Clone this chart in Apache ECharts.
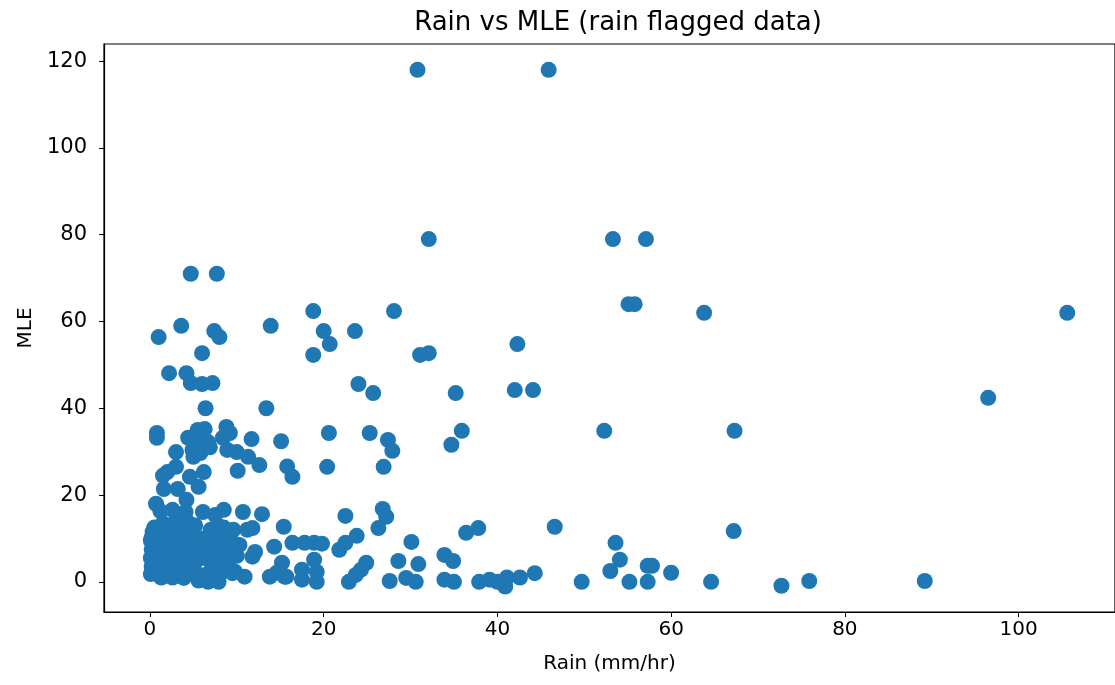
<!DOCTYPE html>
<html>
<head>
<meta charset="utf-8">
<script src="https://cdn.jsdelivr.net/npm/echarts@6/dist/echarts.min.js"></script>
<style>html,body{margin:0;padding:0;background:#fff;}#chart{width:1115px;height:685px;}</style>
</head>
<body>
<div id="chart"></div>
<script>
const titleText = "Rain vs MLE (rain flagged data)";
const xName = "Rain (mm/hr)";
const yName = "MLE";
const xTicks = [0, 20, 40, 60, 80, 100];
const yTicks = [0, 20, 40, 60, 80, 100, 120];

// sparse / upper points [rain, MLE]
const upperPoints = [
  [30.8,118],[45.9,118],
  [32.1,79],[53.3,79],[57.1,79],
  [4.7,71],[7.7,71],
  [1.0,56.4],[3.6,59],[7.4,57.8],[8.0,56.4],[6.0,52.7],[13.9,59],
  [18.8,62.4],[28.1,62.4],[20.0,57.8],[23.6,57.8],[20.7,54.8],[18.8,52.3],[31.1,52.3],[32.1,52.7],[42.3,54.8],
  [55.1,64],[55.8,64],[63.8,62],[105.6,62],
  [2.2,48.1],[4.2,48.1],[4.7,45.8],[6.0,45.6],[7.2,45.8],
  [24.0,45.6],[25.7,43.5],[35.2,43.5],[42.0,44.2],[44.1,44.2],[96.5,42.4],
  [6.4,40],[13.4,40]
];

const midPoints = [
  [0.8,34.3],[0.8,33.2],[5.5,35],[6.3,35.2],[4.4,33.2],[8.8,35.7],[9.2,34.3],[8.4,33.2],[11.7,32.9],[15.1,32.4],
  [5.8,31.8],[6.7,32.2],
  [20.6,34.3],[25.3,34.3],[27.4,32.7],[27.9,30.2],[35.9,34.8],[34.7,31.6],[52.3,34.8],[67.3,34.8],
  [3.0,29.9],[4.9,30.4],[5.0,28.8],[5.8,29.7],[6.9,31.0],
  [8.9,30.4],[10.0,29.9],[11.3,28.8],[12.6,26.9],[10.1,25.6],
  [15.8,26.6],[16.4,24.2],[20.4,26.5],[26.9,26.5],
  [3.0,26.5],[1.5,24.5],[2.0,25.3],[4.6,24.2],[6.2,25.3],[5.6,21.9],[1.6,21.4],[3.2,21.4],
  [0.7,18],[4.2,18.9],[1.2,16.3],[2.6,16.6],[4.1,16.1],[6.1,16.1],[7.5,15.4],[8.5,16.6],[10.7,16.1],[12.9,15.6],
  [22.5,15.2],[26.8,16.8],[27.2,15.0],[26.3,12.4],[15.4,12.7],[36.4,11.3],[37.8,12.4],[46.6,12.7],[67.2,11.7]
];

const lowPoints = [
  [16.4,9.0],[17.8,9.0],[18.9,9.0],[19.8,8.8],[21.8,7.4],[22.5,9.0],[23.8,10.6],[30.1,9.2],[53.6,9.0],
  [14.3,8.1],[12.1,6.9],[11.8,5.8],[11.2,12.0],[11.8,12.4],[9.6,9.0],
  [15.2,4.4],[18.9,5.1],[28.6,4.8],[30.9,4.1],[33.9,6.2],[34.9,4.8],[24.9,4.4],[24.3,2.8],[23.7,1.6],
  [54.1,5.1],[53.0,2.5],[57.3,3.7],[57.8,3.7],[60.0,2.1],
  [17.5,2.8],[17.5,0.5],[19.2,2.3],[19.2,0.0],[15.5,1.2],[22.9,0],[27.6,0.2],[29.5,0.9],[30.6,0],
  [33.9,0.5],[35.0,0],[37.9,0],[39.1,0.5],[40.0,0],[41.1,1.0],[40.9,-1.1],[42.6,1.0],[44.3,2.0],
  [49.7,0],[55.2,0],[57.3,0],[64.6,0],[72.7,-0.9],[75.9,0.2],[89.2,0.2],
  [14.6,2.1],[15.7,1.2],[13.8,1.2],[10.9,1.2],[9.8,2.3],[5.6,0.3],[6.7,0],[7.9,0],[3.9,0.9],
  [0.1,1.8],[1.3,1.0],[2.6,1.0]
];

// dense cluster near origin
const clusterPoints = [
  [0.2,3.5],[0.1,5.5],[0.2,7.5],[0.1,9.5],[0.3,11.5],[0.5,12.5],[0.2,10.2],
  [1.0,2.0],[1.1,4.0],[1.2,6.0],[1.0,8.0],[1.3,10.0],[1.1,12.0],[1.5,13.5],
  [2.0,1.5],[2.1,3.0],[2.3,5.0],[2.0,7.2],[2.4,9.0],[2.2,11.0],[2.5,13.0],
  [3.0,2.5],[3.2,4.5],[3.1,6.5],[3.3,8.5],[3.0,10.5],[3.4,12.0],[3.0,14.0],
  [4.0,1.5],[4.2,3.5],[4.1,5.5],[4.3,7.5],[4.0,9.5],[4.4,11.5],[4.5,13.5],
  [5.0,2.5],[5.2,4.5],[5.1,6.8],[5.3,9.0],[5.0,11.0],[5.2,13.0],
  [6.0,1.5],[6.3,5.5],[6.3,7.5],[6.0,10.0],[7.0,12.0],
  [7.0,2.5],[7.2,4.5],[7.1,6.5],[7.3,8.5],[7.0,10.5],[7.8,13.0],
  [8.0,1.5],[8.2,3.5],[8.1,6.0],[8.4,8.0],[8.0,10.5],[8.5,12.5],
  [9.0,4.5],[9.2,7.0],[9.0,9.5],[9.6,12.0],[10.0,6.0],[10.3,8.5],[9.5,2.0]
];

const allPoints = upperPoints.concat(midPoints, lowPoints, clusterPoints);

const chart = echarts.init(document.getElementById('chart'), null, {renderer: 'canvas'});
const font = 'DejaVu Sans';
chart.setOption({
  animation: false,
  backgroundColor: '#ffffff',
  title: {
    text: titleText,
    left: 613, top: 5, textAlign: 'center',
    textStyle: {fontFamily: font, fontSize: 26, fontWeight: 'normal', color: '#000'}
  },
  grid: {
    left: 104, top: 44, width: 1020, height: 568,
    show: true, borderColor: '#000', borderWidth: 1.2, backgroundColor: 'transparent'
  },
  xAxis: {
    type: 'value', min: -5.29, max: 111.1,
    name: xName, nameLocation: 'middle', nameGap: 42,
    nameTextStyle: {fontFamily: font, fontSize: 20, color: '#000'},
    axisLine: {show: true, onZero: false, lineStyle: {color: '#000', width: 1.2}},
    axisTick: {show: true, length: 5, inside: false, customValues: xTicks, lineStyle: {color: '#000'}},
    axisLabel: {customValues: xTicks, fontFamily: font, fontSize: 20, color: '#000', margin: 8},
    splitLine: {show: false}
  },
  yAxis: {
    type: 'value', min: -6.95, max: 123.95,
    name: yName, nameLocation: 'middle', nameGap: 68, nameRotate: 90,
    nameTextStyle: {fontFamily: font, fontSize: 20, color: '#000'},
    axisLine: {show: true, onZero: false, lineStyle: {color: '#000', width: 1.2}},
    axisTick: {show: true, length: 5, inside: false, customValues: yTicks, lineStyle: {color: '#000'}},
    axisLabel: {customValues: yTicks, fontFamily: font, fontSize: 21, color: '#000', margin: 17},
    splitLine: {show: false}
  },
  series: [{
    type: 'scatter',
    data: allPoints,
    symbolSize: 16,
    itemStyle: {color: '#1f77b4', opacity: 1},
    clip: false
  }]
});
</script>
</body>
</html>
